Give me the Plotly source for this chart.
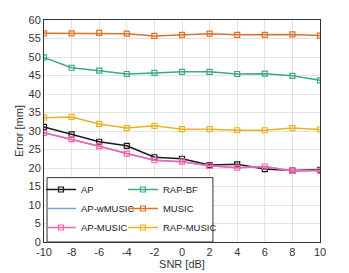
import plotly.graph_objects as go

snr = [-10, -8, -6, -4, -2, 0, 2, 4, 6, 8, 10]
ap = [31.1, 29.1, 27.1, 26.0, 22.9, 22.5, 20.8, 21.0, 19.7, 19.3, 19.5]
ap_wmusic = [29.5, 27.8, 25.9, 23.9, 22.1, 21.7, 20.6, 20.1, 20.4, 19.2, 19.3]
ap_music = [29.5, 27.8, 25.9, 23.9, 22.1, 21.7, 20.6, 20.1, 20.4, 19.2, 19.3]
rap_bf = [49.9, 47.1, 46.3, 45.4, 45.7, 46.0, 46.0, 45.4, 45.5, 44.9, 43.7]
music = [56.4, 56.4, 56.5, 56.3, 55.7, 56.0, 56.3, 56.0, 56.0, 56.1, 55.8]
rap_music = [33.6, 33.8, 31.9, 30.8, 31.4, 30.5, 30.5, 30.2, 30.2, 30.8, 30.4]

series = [
    ("AP", ap, "#1a1a1a", True, "legend"),
    ("AP-wMUSIC", ap_wmusic, "#6CA6DD", False, "legend"),
    ("AP-MUSIC", ap_music, "#FF5FB0", True, "legend"),
    ("RAP-BF", rap_bf, "#3FAA7C", True, "legend2"),
    ("MUSIC", music, "#E0702A", True, "legend2"),
    ("RAP-MUSIC", rap_music, "#EDB120", True, "legend2"),
]

fig = go.Figure()
for name, vals, col, mk, lg in series:
    fig.add_trace(go.Scatter(
        x=snr, y=vals, name=name, legend=lg,
        mode="lines+markers" if mk else "lines",
        line=dict(color=col, width=1.5),
        marker=dict(symbol="square-open", size=5, color=col, line=dict(width=1.2, color=col)),
    ))

axis_common = dict(
    showgrid=True, gridcolor="#e3e3e3", gridwidth=1,
    showline=True, linecolor="#333333", linewidth=1, mirror=True,
    ticks="", zeroline=False, automargin=False,
    tickfont=dict(family="Liberation Sans, Arial", size=11, color="#333333"),
    title_font=dict(family="Liberation Sans, Arial", size=11, color="#333333"),
)
fig.update_xaxes(range=[-10, 10], tickvals=snr, ticktext=[str(v) for v in snr],
                 title_text="SNR [dB]", title_standoff=2, **axis_common)
fig.update_yaxes(range=[0, 60], tickvals=list(range(0, 61, 5)),
                 title_text="Error [mm]", title_standoff=2, **axis_common)

leg_common = dict(
    orientation="v", yanchor="bottom", xanchor="left", y=0.0,
    bgcolor="rgba(0,0,0,0)", borderwidth=0,
    font=dict(size=9.5, color="#222222"),
    itemwidth=30, tracegroupgap=0, traceorder="normal",
)

# page body has an 8px margin, so the figure is offset by 8px
fig.update_layout(
    width=341, height=265,
    margin=dict(l=36, r=29, t=12, b=31),
    paper_bgcolor="white", plot_bgcolor="white",
    font=dict(family="Liberation Sans, Arial", size=11, color="#333333"),
    legend=dict(x=-0.011, **leg_common),
    legend2=dict(x=0.286, **leg_common),
    shapes=[dict(type="rect", xref="paper", yref="paper",
                 x0=0.011, x1=0.612, y0=0.0, y1=0.29,
                 fillcolor="white", line=dict(color="#333333", width=1),
                 layer="above")],
    showlegend=True,
)
fig.write_html("out.html")
